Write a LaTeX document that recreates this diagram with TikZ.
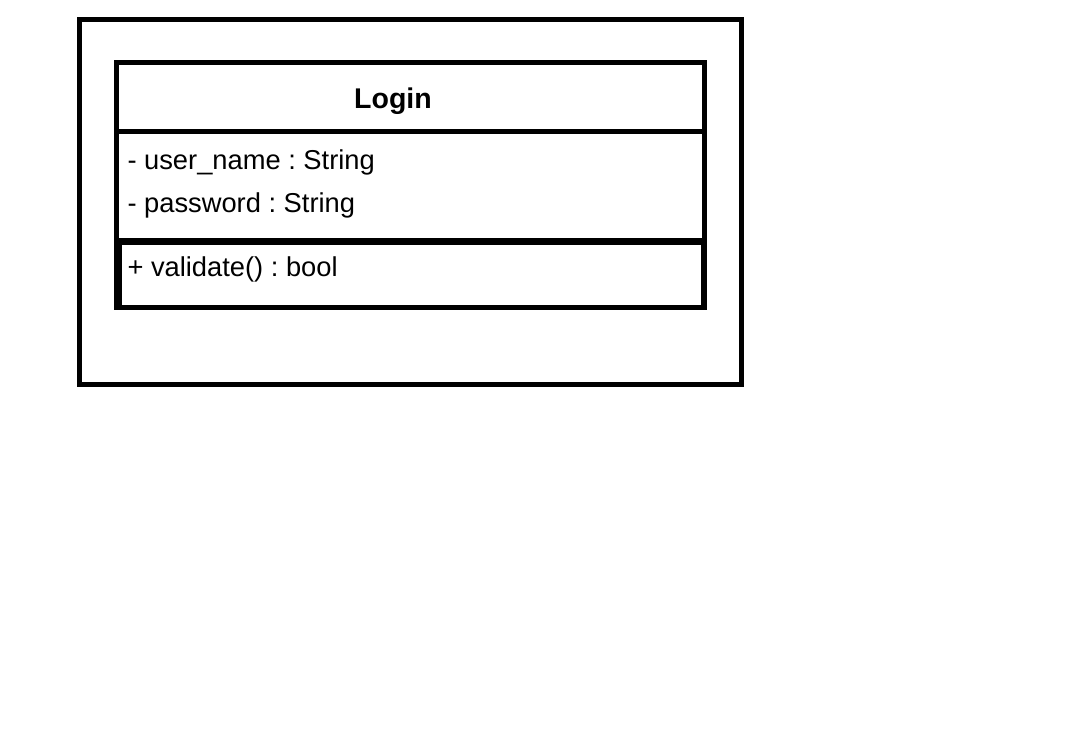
\documentclass[tikz,border=0pt]{standalone}
\usepackage{fontspec}
\setmainfont{Liberation Sans}
\frenchspacing
\begin{document}
\begin{tikzpicture}[x=1pt,y=-1pt,
  thick box/.style={draw=black,line width=5pt},
  member/.style={anchor=base west,inner sep=0pt,font=\fontsize{27.3}{30}\selectfont},
  classname/.style={anchor=base,inner sep=0pt,font=\fontsize{28.5}{32}\selectfont\bfseries}]
\useasboundingbox (0,0) rectangle (1083,743);
\fill[white] (0,0) rectangle (1083,743);
% outer frame
\draw[thick box] (79.8,19.2) rectangle (741.8,384.8);
% class box
\coordinate (tl) at (116.5,62.5);
\coordinate (br) at (704.8,307.5);
\draw[thick box] (tl) rectangle (br);
\draw[thick box] (116.5,131.5) -- (704.8,131.5);
\draw[thick box] (116.5,240.8) -- (704.8,240.8);
% methods compartment
\draw[thick box] (119.3,242.5) rectangle (703.2,307.5);
% texts
\node[classname] (name) at (393,108.3) {Login};
\node[member] (a1) at (127.3,169.3) {- user\_name : String};
\node[member] (a2) at (127.3,212.7) {- password : String};
\node[member] (m1) at (127.3,276.7) {+ validate() : bool};
\end{tikzpicture}
\end{document}
